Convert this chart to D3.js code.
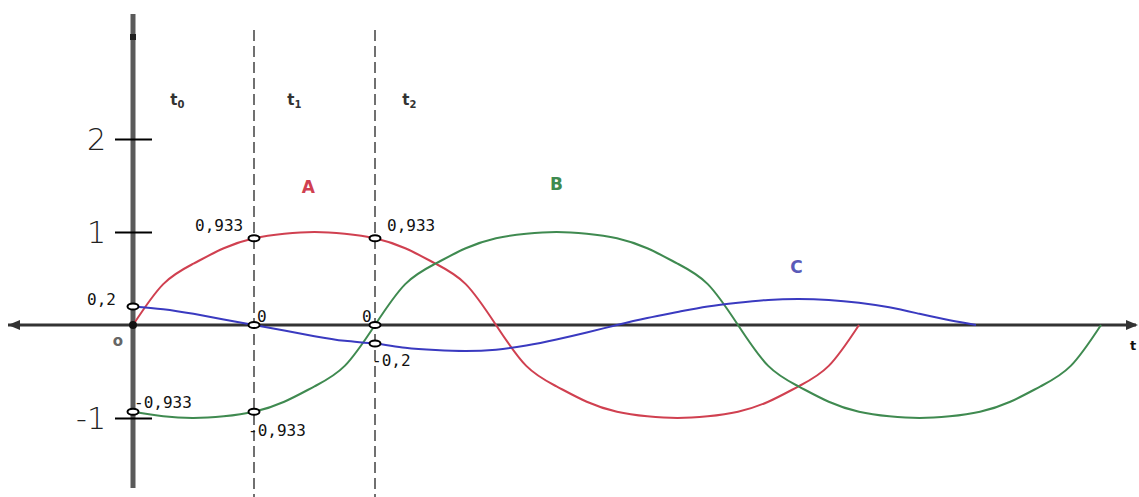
<!DOCTYPE html>
<html>
<head>
<meta charset="utf-8">
<script src="https://cdn.jsdelivr.net/npm/d3@7"></script>
<style>
  html, body { margin: 0; padding: 0; background: #fff; }
  svg { display: block; }
</style>
</head>
<body>
<svg id="chart" width="1139" height="497"></svg>
<script>
// Phase angle (degrees) and instantaneous value of the three waves A, B and C
const seriesA = [
  [0, 0], [15, 0.44], [30, 0.66], [45, 0.825], [60, 0.933], [75, 0.982], [90, 1],
  [105, 0.982], [120, 0.933], [135, 0.825], [150, 0.66], [165, 0.44], [180, 0],
  [195, -0.44], [210, -0.66], [225, -0.825], [240, -0.933], [255, -0.982], [270, -1],
  [285, -0.982], [300, -0.933], [315, -0.825], [330, -0.66], [345, -0.44], [360, 0]
];
const seriesB = [
  [0, -0.933], [15, -0.982], [30, -1], [45, -0.982], [60, -0.933], [75, -0.825],
  [90, -0.66], [105, -0.44], [120, 0], [135, 0.44], [150, 0.66], [165, 0.825],
  [180, 0.933], [195, 0.982], [210, 1], [225, 0.982], [240, 0.933], [255, 0.825],
  [270, 0.66], [285, 0.44], [300, 0], [315, -0.44], [330, -0.66], [345, -0.825],
  [360, -0.933], [375, -0.982], [390, -1], [405, -0.982], [420, -0.933],
  [435, -0.825], [450, -0.66], [465, -0.44], [480, 0]
];
const seriesC = [
  [0, 0.2], [15, 0.17], [30, 0.12], [45, 0.06], [60, 0], [75, -0.06], [90, -0.12],
  [105, -0.17], [120, -0.2], [135, -0.245], [150, -0.27], [165, -0.28], [180, -0.265],
  [195, -0.22], [210, -0.155], [225, -0.08], [240, 0], [255, 0.075], [270, 0.14],
  [285, 0.2], [300, 0.24], [315, 0.27], [330, 0.28], [345, 0.27], [360, 0.24],
  [375, 0.19], [390, 0.12], [405, 0.05], [418, 0]
];

// Instants t0, t1, t2 marked by the dashed lines
const instants = [60, 120];
const instantLabels = [
  { x: 22, sub: "0" }, { x: 80, sub: "1" }, { x: 137, sub: "2" }
];

// Values read at each instant
const markedPoints = [
  { x: 0, v: 0.2, text: "0,2", dx: -46, dy: -1 },
  { x: 60, v: 0.933, text: "0,933", dx: -59, dy: -7 },
  { x: 120, v: 0.933, text: "0,933", dx: 12, dy: -7 },
  { x: 60, v: 0, text: "0", dx: 3, dy: -3 },
  { x: 120, v: 0, text: "0", dx: -13, dy: -3 },
  { x: 120, v: -0.2, text: "-0,2", dx: -3, dy: 22 },
  { x: 0, v: -0.933, text: "-0,933", dx: 1, dy: -4 },
  { x: 60, v: -0.933, text: "-0,933", dx: -6, dy: 24 }
];

const yTicks = [2, 1, -1];
const curveNames = [
  { name: "A", x: 87, v: 1.48, color: "#d04050" },
  { name: "B", x: 210, v: 1.52, color: "#3f8a50" },
  { name: "C", x: 329, v: 0.62, color: "#5a5ab8" }
];

const svg = d3.select("#chart");
const x = d3.scaleLinear().domain([0, 120]).range([133, 375]);
const y = d3.scaleLinear().domain([0, 1]).range([325, 232]);

// Dashed instant lines
svg.selectAll("line.instant").data(instants).join("line")
  .attr("class", "instant")
  .attr("x1", d => x(d)).attr("x2", d => x(d))
  .attr("y1", 30).attr("y2", 497)
  .attr("stroke", "#707070").attr("stroke-width", 2)
  .attr("stroke-dasharray", "11,5");

// Horizontal axis with arrow heads
svg.append("line")
  .attr("x1", 8).attr("x2", 1136).attr("y1", y(0)).attr("y2", y(0))
  .attr("stroke", "#333").attr("stroke-width", 3);
svg.append("path")
  .attr("d", `M8,${y(0)} L20,${y(0) - 5} L20,${y(0) + 5} Z`)
  .attr("fill", "#333");
svg.append("path")
  .attr("d", `M1138,${y(0)} L1126,${y(0) - 5} L1126,${y(0) + 5} Z`)
  .attr("fill", "#333");
svg.append("text")
  .attr("x", 1130).attr("y", 350)
  .attr("font-family", "DejaVu Sans").attr("font-size", 13).attr("font-weight", "bold")
  .attr("fill", "#111").text("t");

// Vertical axis
svg.append("line")
  .attr("x1", x(0)).attr("x2", x(0)).attr("y1", 14).attr("y2", 488)
  .attr("stroke", "#5a5a5a").attr("stroke-width", 5);
svg.append("rect")
  .attr("x", x(0) - 3).attr("y", 34).attr("width", 6).attr("height", 6).attr("fill", "#222");

// Ticks crossing the vertical axis
const axis = d3.axisLeft(y).tickValues(yTicks).tickSize(37).tickPadding(9)
  .tickFormat(d => d < 0 ? "-" + Math.abs(d) : d);
const gAxis = svg.append("g").attr("transform", `translate(${x(0) + 19},0)`).call(axis);
gAxis.select(".domain").remove();
gAxis.selectAll(".tick line").attr("stroke", "#000").attr("stroke-width", 2);
gAxis.selectAll(".tick text")
  .attr("font-family", "DejaVu Sans").attr("font-size", 30)
  .attr("font-weight", 300).attr("fill", "#222").attr("dy", "0.36em");

// Waves
const line = d3.line()
  .x(d => x(d[0])).y(d => y(d[1]))
  .curve(d3.curveNatural);
[[seriesA, "#d04050"], [seriesB, "#3f8a50"], [seriesC, "#3a3ac0"]].forEach(([data, color]) => {
  svg.append("path").datum(data)
    .attr("d", line)
    .attr("fill", "none").attr("stroke", color).attr("stroke-width", 2);
});

// Interval labels t0, t1, t2
instantLabels.forEach(l => {
  const t = svg.append("text")
    .attr("x", x(l.x)).attr("y", 105)
    .attr("text-anchor", "middle")
    .attr("font-family", "DejaVu Sans").attr("font-size", 15).attr("font-weight", "bold")
    .attr("fill", "#333");
  t.append("tspan").text("t");
  t.append("tspan").attr("font-size", 10).attr("dy", 3).text(l.sub);
});

// Wave names
svg.selectAll("text.wave").data(curveNames).join("text")
  .attr("class", "wave")
  .attr("x", d => x(d.x)).attr("y", d => y(d.v))
  .attr("text-anchor", "middle").attr("dy", "0.36em")
  .attr("font-family", "DejaVu Sans").attr("font-size", 17).attr("font-weight", "bold")
  .attr("fill", d => d.color)
  .text(d => d.name);

// Origin
svg.append("circle").attr("cx", x(0)).attr("cy", y(0)).attr("r", 4).attr("fill", "#111");
svg.append("text")
  .attr("x", 118).attr("y", 346).attr("text-anchor", "middle")
  .attr("font-family", "DejaVu Sans").attr("font-size", 15).attr("font-weight", "bold")
  .attr("fill", "#666").text("o");

// Marked values
svg.selectAll("ellipse.mark").data(markedPoints).join("ellipse")
  .attr("class", "mark")
  .attr("cx", d => x(d.x)).attr("cy", d => y(d.v))
  .attr("rx", 5.5).attr("ry", 3)
  .attr("fill", "#fff").attr("stroke", "#000").attr("stroke-width", 2);
svg.selectAll("text.mark").data(markedPoints).join("text")
  .attr("class", "mark")
  .attr("x", d => x(d.x) + d.dx).attr("y", d => y(d.v) + d.dy)
  .attr("font-family", "DejaVu Sans Mono").attr("font-size", 16)
  .attr("fill", "#111")
  .text(d => d.text);
</script>
</body>
</html>
